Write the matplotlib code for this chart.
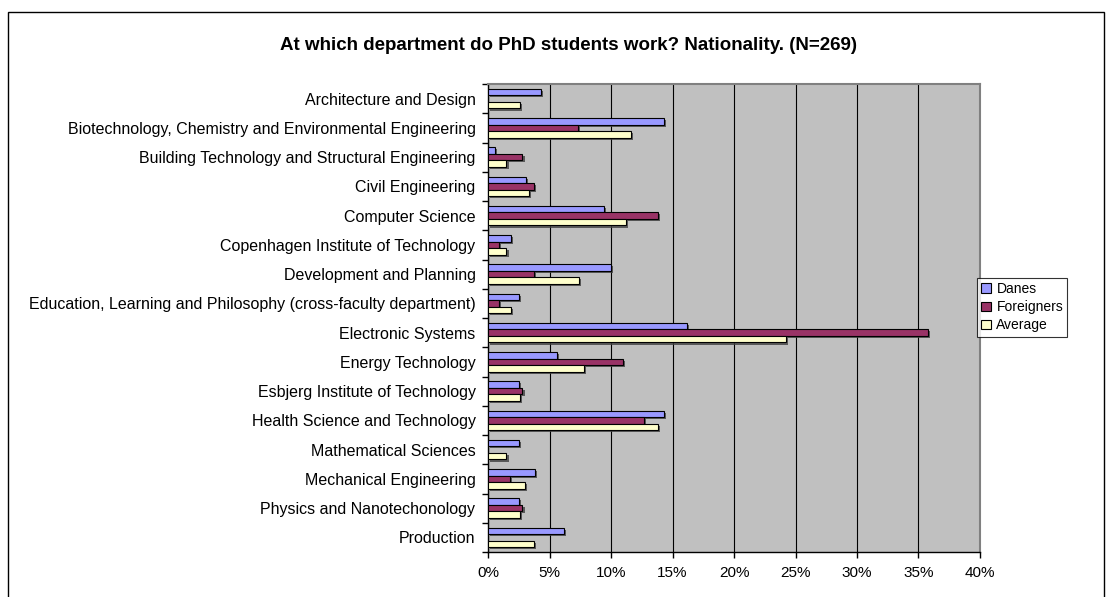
import matplotlib
matplotlib.use("Agg")
import matplotlib.pyplot as plt
import matplotlib.patheffects as pe
from matplotlib.ticker import FuncFormatter, FixedLocator
from matplotlib.patches import Rectangle
import numpy as np

plt.rcParams['font.family'] = ['Liberation Sans', 'DejaVu Sans']

categories = [
    "Architecture and Design",
    "Biotechnology, Chemistry and Environmental Engineering",
    "Building Technology and Structural Engineering",
    "Civil Engineering",
    "Computer Science",
    "Copenhagen Institute of Technology",
    "Development and Planning",
    "Education, Learning and Philosophy (cross-faculty department)",
    "Electronic Systems",
    "Energy Technology",
    "Esbjerg Institute of Technology",
    "Health Science and Technology",
    "Mathematical Sciences",
    "Mechanical Engineering",
    "Physics and Nanotechonology",
    "Production",
]
danes =      [4.3, 14.3, 0.6, 3.1, 9.4, 1.9, 10.0, 2.5, 16.2, 5.6, 2.5, 14.3, 2.5, 3.8, 2.5, 6.2]
foreigners = [0.0,  7.3, 2.8, 3.7, 13.8, 0.9, 3.7, 0.9, 35.8, 11.0, 2.8, 12.7, 0.0, 1.8, 2.8, 0.0]
average =    [2.6, 11.6, 1.5, 3.3, 11.2, 1.5, 7.4, 1.9, 24.2, 7.8, 2.6, 13.8, 1.5, 3.0, 2.6, 3.7]
series_names = ["Danes", "Foreigners", "Average"]
series_colors = ["#9999FF", "#993366", "#FFFFCC"]
xticks = [0, 5, 10, 15, 20, 25, 30, 35, 40]

fig = plt.figure(figsize=(11.09, 5.97), dpi=100)
# outer chart frame
fig.patches.append(Rectangle((8/1109, -0.05), (1104-8)/1109, (597-12)/597 + 0.05,
                             transform=fig.transFigure, fill=False,
                             edgecolor="black", linewidth=1.0))

ax = fig.add_axes([488/1109, (597-552)/597, (980-488)/1109, (552-84)/597])
ax.set_facecolor("#C0C0C0")

y = np.arange(len(categories))
h = 0.225
offsets = [-h, 0, h]
shadow = [pe.SimplePatchShadow(offset=(1.5, -1.5), shadow_rgbFace="#404040", alpha=0.8), pe.Normal()]
for vals, off, col, name in zip([danes, foreigners, average], offsets, series_colors, series_names):
    vals = np.array(vals, dtype=float)
    mask = vals > 0
    bars = ax.barh(y[mask] + off, vals[mask] / 100.0, height=h, color=col,
                   edgecolor="black", linewidth=0.8, label=name, zorder=3)
    for b in bars:
        b.set_path_effects(shadow)

ax.set_xlim(0, 0.40)
ax.set_ylim(len(categories) - 0.5, -0.5)
ax.set_xticks([t / 100 for t in xticks])
ax.xaxis.set_major_formatter(FuncFormatter(lambda v, p: f"{v*100:.0f}%"))
ax.grid(axis="x", color="black", linewidth=0.8, zorder=1)
ax.set_axisbelow(True)

ax.set_yticks(y)
ax.set_yticklabels(categories, fontsize=11.5)
ax.yaxis.set_minor_locator(FixedLocator(np.arange(-0.5, len(categories), 1.0)))
ax.tick_params(axis="y", which="major", length=0, pad=9)
ax.tick_params(axis="y", which="minor", length=4, direction="out", width=1)
ax.tick_params(axis="x", length=4, direction="out", width=1, labelsize=11, pad=6)

for s in ["left", "bottom"]:
    ax.spines[s].set_color("black")
    ax.spines[s].set_linewidth(1.0)
for s in ["top", "right"]:
    ax.spines[s].set_color("#808080")
    ax.spines[s].set_linewidth(1.5)

fig.text(569/1109, 1 - 45/597, "At which department do PhD students work? Nationality. (N=269)",
         ha="center", va="center", fontsize=13.5, fontweight="bold")

leg = fig.legend(loc="upper left", bbox_to_anchor=(977/1109, 1 - 278/597),
                 fontsize=10, frameon=True, fancybox=False, edgecolor="black",
                 handlelength=0.7, handleheight=0.7, handletextpad=0.4,
                 borderpad=0.3, labelspacing=0.3, borderaxespad=0)
leg.get_frame().set_linewidth(0.8)
for hnd in leg.legend_handles:
    hnd.set_path_effects([])

fig.savefig("out.png", dpi=100)
